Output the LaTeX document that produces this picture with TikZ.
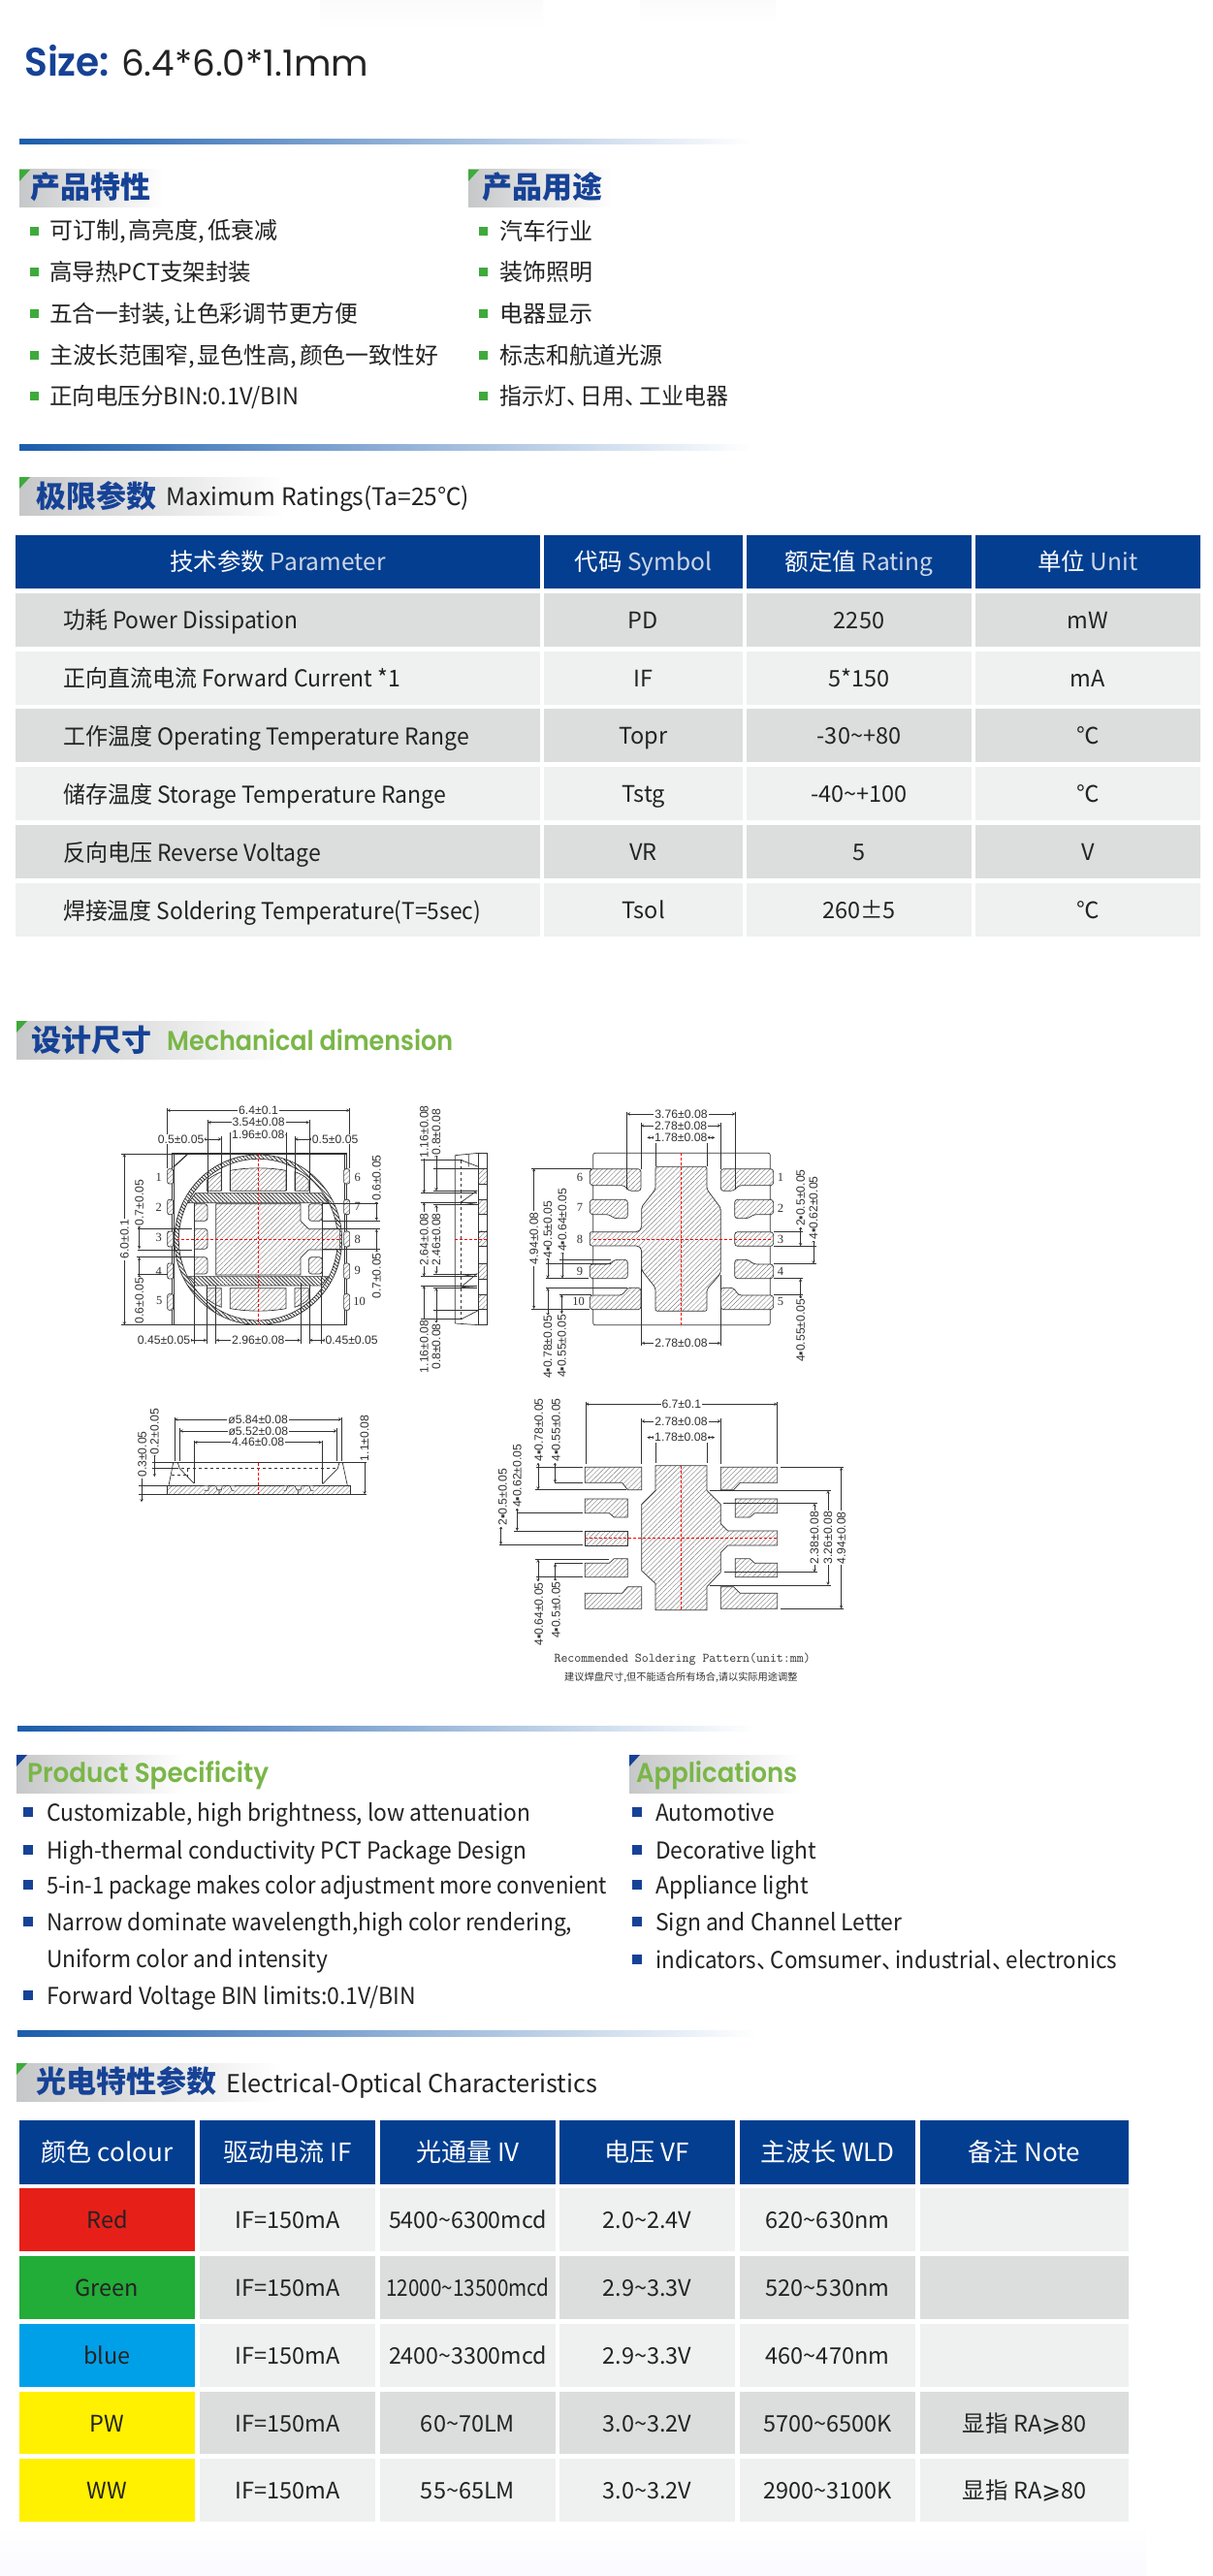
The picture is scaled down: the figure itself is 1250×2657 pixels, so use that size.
\documentclass[tikz,border=0pt]{standalone}
\usepackage{fontspec}
\setmainfont{Noto Sans CJK SC}
\newfontfamily\titlefont[BoldFont={Poppins SemiBold}]{Poppins}
\newfontfamily\drawfont{Liberation Sans}
\newfontfamily\numfont{Liberation Serif}
\newfontfamily\glyphfont{DejaVu Sans}
\usetikzlibrary{patterns.meta}
\definecolor{deepblue}{RGB}{4,62,144}
\definecolor{tagblue}{RGB}{22,66,150}
\definecolor{barblue}{RGB}{27,93,172}
\definecolor{leafgreen}{RGB}{122,182,72}
\definecolor{cornergreen}{RGB}{62,170,60}
\definecolor{inkgray}{RGB}{35,35,35}
\definecolor{rowdark}{RGB}{220,221,221}
\definecolor{rowlight}{RGB}{239,240,240}
\definecolor{tagleft}{RGB}{198,199,200}
\definecolor{ledred}{RGB}{231,31,25}
\definecolor{ledgreen}{RGB}{34,172,56}
\definecolor{ledblue}{RGB}{0,160,233}
\definecolor{ledyellow}{RGB}{255,241,0}
\definecolor{cadink}{RGB}{50,50,50}
\definecolor{cadhatch}{RGB}{130,130,130}
\definecolor{headlatin}{RGB}{205,215,232}
\tikzstyle{bodytext} = [anchor=west, inner sep=0pt, color=inkgray, font=\fontsize{24}{28}\selectfont, text height=20pt, text depth=2pt]
\tikzstyle{tagtext} = [anchor=west, inner sep=0pt, color=tagblue, font=\fontsize{31}{36}\selectfont\bfseries]
\tikzstyle{tagenglish} = [anchor=west, inner sep=0pt, color=leafgreen, font=\fontsize{28}{32}\titlefont\bfseries]
\tikzstyle{celltext} = [inner sep=0pt, color=inkgray, align=center, font=\fontsize{23.5}{28}\selectfont, text height=20pt, text depth=2pt]
\tikzstyle{headtext} = [inner sep=0pt, color=white, align=center, font=\fontsize{24.5}{28}\selectfont, text height=20pt, text depth=2pt]
\tikzstyle{cadline} = [color=cadink, line width=.7pt]
\tikzstyle{cadbold} = [color=cadink, line width=1.2pt]
\tikzstyle{dimline} = [color=cadink, line width=.5pt, <->, >=stealth]
\tikzstyle{extline} = [color=cadink, line width=.5pt]
\tikzstyle{reddash} = [color=red, line width=.7pt, dash pattern=on 3pt off 2pt]
\tikzstyle{hatched} = [cadline, preaction={fill=white}, pattern={Lines[angle=45,distance=3.6pt,line width=.45pt]}, pattern color=cadhatch]
\tikzstyle{densehatch} = [cadline, preaction={fill=white}, pattern={Lines[angle=-45,distance=2.8pt,line width=.8pt]}, pattern color=cadink]
\tikzstyle{dimtext} = [inner sep=1pt, color=cadink, fill=white, font=\fontsize{12.2}{13}\drawfont]
\tikzstyle{pinnum} = [inner sep=0pt, color=cadink, font=\fontsize{12.5}{13}\numfont]
\newcommand{\fitw}[2]{\resizebox{#1pt}{\height}{#2}}
\newcommand{\gradbar}[4]{\shade[left color=barblue, right color=white] (#1,#2) rectangle (#3,#4);}
\newcommand{\sectag}[5]{\shade[left color=tagleft, right color=white] (#1,#2) rectangle (#3,#4);
  \fill[fill=#5] (#1,#2) -- ++(11,0) -- ++(-11,12) -- cycle;}
\newcommand{\dotgreen}[2]{\fill[fill=cornergreen] (#1,#2-4.5) rectangle (#1+9,#2+4.5);}
\newcommand{\dotblue}[2]{\fill[fill=tagblue] (#1,#2-5) rectangle (#1+9.5,#2+5);}
\newcommand{\tablecell}[7]{\fill[fill=#6] (#2,#3) rectangle (#4,#5) node[pos=.5, celltext] (#1) {#7};}
\newcommand{\headpair}[7]{\fill[fill=deepblue] (#2,#3) rectangle (#4,#5) node[pos=.5, headtext] (#1) {#6 {\color{headlatin}#7}};}
\newcommand{\headwhite}[1]{\color{white}\fontsize{26}{28}\selectfont #1}
\newcommand{\dimx}[5]{\draw[dimline] (#3,#2) -- (#4,#2);
  \node[dimtext] (#1) at ({(#3+#4)/2},#2) {#5};}
\newcommand{\dimy}[5]{\draw[dimline] (#2,#3) -- (#2,#4);
  \node[dimtext, rotate=90] (#1) at (#2,{(#3+#4)/2}) {#5};}
\newcommand{\dimlabel}[4]{\node[dimtext, #4] (#1) at (#2) {#3};}
\newcommand{\cjkdun}{、\kern-8.5pt}

\begin{document}
\begin{tikzpicture}[x=1pt, y=-1pt]
  \useasboundingbox (0,0) rectangle (1250,2657);
  \fill[fill=white] (0,0) rectangle (1250,2657);
  \shade[top color=black!1.5, bottom color=white] (330,0) rectangle (560,30);
  \shade[top color=black!1.5, bottom color=white] (660,0) rectangle (800,25);
  \shade[top color=white, bottom color=blue!2] (0,2605) rectangle (1182,2657);

  % size line
  \node (sizeword) at (25,79) [anchor=base west, inner sep=0pt, color=tagblue, font=\fontsize{41}{44}\titlefont\bfseries] {\fitw{88}{Size:}};
  \node (sizevalue) at (125,79) [anchor=base west, inner sep=0pt, color=inkgray, font=\fontsize{37}{40}\titlefont] {\fitw{255}{6.4*6.0*1.1mm}};
  \gradbar{20}{144}{775}{149}

  % product features
  \sectag{20}{175}{168}{213}{cornergreen}
  \sectag{483}{175}{632}{213}{cornergreen}
  \node (featurehead) at (31,193) [tagtext] {产品特性};
  \node (usehead) at (497,193) [tagtext] {产品用途};
  \dotgreen{31}{238} \node (featurea) at (51,238) [bodytext] {\fitw{235}{可订制,\hspace{3pt}高亮度,\hspace{3pt}低衰减}};
  \dotgreen{31}{280} \node (featureb) at (51,280) [bodytext] {\fitw{208}{高导热PCT支架封装}};
  \dotgreen{31}{323} \node (featurec) at (51,323) [bodytext] {\fitw{318}{五合一封装,\hspace{3pt}让色彩调节更方便}};
  \dotgreen{31}{366} \node (featured) at (51,366) [bodytext] {\fitw{401}{主波长范围窄,\hspace{3pt}显色性高,\hspace{3pt}颜色一致性好}};
  \dotgreen{31}{408} \node (featuree) at (51,408) [bodytext] {\fitw{257}{正向电压分BIN:0.1V/BIN}};
  \dotgreen{494}{238} \node (usea) at (515,238) [bodytext] {汽车行业};
  \dotgreen{494}{280} \node (useb) at (515,280) [bodytext] {装饰照明};
  \dotgreen{494}{323} \node (usec) at (515,323) [bodytext] {电器显示};
  \dotgreen{494}{366} \node (used) at (515,366) [bodytext] {标志和航道光源};
  \dotgreen{494}{408} \node (usee) at (515,408) [bodytext] {\fitw{236}{指示灯\cjkdun 日用\cjkdun 工业电器}};
  \gradbar{20}{458}{775}{464}

  % maximum ratings
  \sectag{20}{492}{295}{531}{cornergreen}
  \node (ratinghead) at (37.5,512) [tagtext] {极限参数};
  \node (ratingsub) at (171,512) [bodytext, font=\fontsize{25}{28}\selectfont] {\fitw{313}{Maximum Ratings(Ta=25℃)}};
  \headpair{ratepara}{16}{552}{557}{607}{技术参数}{Parameter}
  \headpair{ratesym}{561}{552}{766}{607}{代码}{Symbol}
  \headpair{rateval}{770}{552}{1002}{607}{额定值}{Rating}
  \headpair{rateunit}{1006}{552}{1238}{607}{单位}{Unit}
  % rows
  \tablecell{ra}{16}{612}{557}{667}{rowdark}{}
  \node (raname) at (65,639) [bodytext] {\fitw{242}{功耗 Power Dissipation}};
  \tablecell{rasym}{561}{612}{766}{667}{rowdark}{PD}
  \tablecell{raval}{770}{612}{1002}{667}{rowdark}{2250}
  \tablecell{raunit}{1006}{612}{1238}{667}{rowdark}{mW}
  \tablecell{rb}{16}{672}{557}{727}{rowlight}{}
  \node (rbname) at (65,699) [bodytext] {\fitw{348}{正向直流电流 Forward Current *1}};
  \tablecell{rbsym}{561}{672}{766}{727}{rowlight}{IF}
  \tablecell{rbval}{770}{672}{1002}{727}{rowlight}{5*150}
  \tablecell{rbunit}{1006}{672}{1238}{727}{rowlight}{mA}
  \tablecell{rc}{16}{731}{557}{786}{rowdark}{}
  \node (rcname) at (65,759) [bodytext] {\fitw{419}{工作温度 Operating Temperature Range}};
  \tablecell{rcsym}{561}{731}{766}{786}{rowdark}{Topr}
  \tablecell{rcval}{770}{731}{1002}{786}{rowdark}{-30\textasciitilde+80}
  \tablecell{rcunit}{1006}{731}{1238}{786}{rowdark}{℃}
  \tablecell{rd}{16}{791}{557}{846}{rowlight}{}
  \node (rdname) at (65,819) [bodytext] {\fitw{395}{储存温度 Storage Temperature Range}};
  \tablecell{rdsym}{561}{791}{766}{846}{rowlight}{Tstg}
  \tablecell{rdval}{770}{791}{1002}{846}{rowlight}{-40\textasciitilde+100}
  \tablecell{rdunit}{1006}{791}{1238}{846}{rowlight}{℃}
  \tablecell{re}{16}{851}{557}{906}{rowdark}{}
  \node (rename) at (65,879) [bodytext] {\fitw{266}{反向电压 Reverse Voltage}};
  \tablecell{resym}{561}{851}{766}{906}{rowdark}{VR}
  \tablecell{reval}{770}{851}{1002}{906}{rowdark}{5}
  \tablecell{reunit}{1006}{851}{1238}{906}{rowdark}{V}
  \tablecell{rf}{16}{911}{557}{966}{rowlight}{}
  \node (rfname) at (65,939) [bodytext] {\fitw{431}{焊接温度 Soldering Temperature(T=5sec)}};
  \tablecell{rfsym}{561}{911}{766}{966}{rowlight}{Tsol}
  \tablecell{rfval}{770}{911}{1002}{966}{rowlight}{260±5}
  \tablecell{rfunit}{1006}{911}{1238}{966}{rowlight}{℃}

  % mechanical dimension
  \sectag{17}{1053}{295}{1092}{cornergreen}
  \node (mechhead) at (32,1073) [tagtext] {设计尺寸};
  \node (mechsub) at (172,1073) [tagenglish] {\fitw{295}{Mechanical dimension}};

  % top view
  \begin{scope}[shift={(100,1120)}, x=0.3333pt, y=-0.3333pt]
    \draw[cadbold] (232,210) rectangle (772,740);
    \draw[cadline] (238,210) -- (238,740) (766,210) -- (766,740);
    \draw[cadbold] (236,252) -- (282,210);
    \draw[densehatch, even odd rule] (499,476) ellipse [x radius=259, y radius=263] (499,476) ellipse [x radius=246, y radius=250];
    \draw[hatched] (412,262) .. controls (470,252) and (530,252) .. (585,262) -- (585,325) -- (412,325) -- cycle;
    \draw[hatched] (340,292) .. controls (355,280) and (370,272) .. (385,266) -- (385,325) -- (340,325) -- cycle;
    \draw[hatched] (612,266) .. controls (630,272) and (645,280) .. (655,292) -- (655,325) -- (612,325) -- cycle;
    \draw[hatched] (412,689) .. controls (470,699) and (530,699) .. (585,689) -- (585,626) -- (412,626) -- cycle;
    \draw[hatched] (340,659) .. controls (355,671) and (370,679) .. (385,685) -- (385,626) -- (340,626) -- cycle;
    \draw[hatched] (612,685) .. controls (630,679) and (645,671) .. (655,659) -- (655,626) -- (612,626) -- cycle;
    \draw[hatched] (368,365) -- (630,365) -- (630,418) -- (655,443) -- (752,443) -- (752,507) -- (655,507) -- (630,532) -- (630,585) -- (368,585) -- cycle;
    \draw[hatched, rounded corners=3pt] (302,365) -- (342,365) -- (342,418) -- (302,418);
    \draw[hatched, rounded corners=3pt] (302,442) -- (342,442) -- (342,505) -- (302,505);
    \draw[hatched, rounded corners=3pt] (302,530) -- (342,530) -- (342,582) -- (302,582);
    \draw[hatched, rounded corners=3pt] (697,365) -- (655,365) -- (655,418) -- (697,418) -- cycle;
    \draw[hatched, rounded corners=3pt] (697,530) -- (655,530) -- (655,582) -- (697,582) -- cycle;
    \draw[densehatch] (305,332) -- (695,332) -- (718,362) -- (283,362) -- cycle;
    \draw[densehatch] (283,590) -- (715,590) -- (695,618) -- (305,618) -- cycle;
    \draw[cadline] (302,362) -- (302,590) (697,362) -- (697,590);
    \draw[hatched, rounded corners=2pt] (218,257) rectangle (236,303);
    \draw[hatched, rounded corners=2pt] (218,352) rectangle (236,398);
    \draw[hatched, rounded corners=2pt] (218,450) rectangle (236,498);
    \draw[hatched, rounded corners=2pt] (218,549) rectangle (236,597);
    \draw[hatched, rounded corners=2pt] (218,644) rectangle (236,694);
    \draw[hatched, rounded corners=2pt] (764,257) rectangle (782,303);
    \draw[hatched, rounded corners=2pt] (764,352) rectangle (782,398);
    \draw[hatched, rounded corners=2pt] (764,450) rectangle (782,498);
    \draw[hatched, rounded corners=2pt] (764,549) rectangle (782,597);
    \draw[hatched, rounded corners=2pt] (764,644) rectangle (782,694);
    \draw[reddash] (499,210) -- (499,740) (245,475) -- (755,475);
    \draw[extline] (217,68) -- (217,255) (782,68) -- (782,255) (343,105) -- (343,330) (657,105) -- (657,330) (413,145) -- (413,325) (585,145) -- (585,325) (385,155) -- (385,325) (612,155) -- (612,325);
    \dimx{topwidth}{76}{217}{782}{6.4±0.1}
    \dimx{toplens}{113}{343}{657}{3.54±0.08}
    \dimx{toppad}{152}{413}{585}{1.96±0.08}
    \draw[dimline] (328,165) -- (385,165); \draw[dimline] (612,165) -- (668,165);
    \dimlabel{topgapl}{260,165}{0.5±0.05}{}
    \dimlabel{topgapr}{737,165}{0.5±0.05}{}
    \draw[extline] (75,210) -- (232,210) (75,740) -- (232,740) (125,443) -- (295,443) (125,507) -- (295,507) (122,530) -- (300,530) (125,583) -- (220,583);
    \dimy{topheight}{85}{210}{740}{6.0±0.1}
    \draw[dimline] (131,430) -- (131,505); \draw[dimline] (131,530) -- (131,597);
    \dimlabel{topsevenl}{131,362}{0.7±0.05}{rotate=90}
    \dimlabel{topsixl}{131,665}{0.6±0.05}{rotate=90}
    \draw[extline] (700,365) -- (870,365) (700,417) -- (875,417) (700,443) -- (875,443) (700,505) -- (875,505);
    \draw[dimline] (865,355) -- (865,417); \draw[dimline] (865,443) -- (865,520);
    \dimlabel{topsixr}{865,285}{0.6±0.05}{rotate=90}
    \dimlabel{topsevenr}{865,588}{0.7±0.05}{rotate=90}
    \draw[extline] (300,590) -- (300,797) (340,618) -- (340,797) (368,618) -- (368,797) (630,610) -- (630,797) (657,618) -- (657,797) (695,590) -- (695,797);
    \draw[dimline] (285,787) -- (340,787); \draw[dimline] (657,787) -- (710,787);
    \dimx{topinner}{787}{368}{630}{2.96±0.08}
    \dimlabel{topedgel}{207,787}{0.45±0.05}{}
    \dimlabel{topedger}{788,787}{0.45±0.05}{}
    \node (pina) at (191,282) [pinnum] {1};
    \node (pinb) at (191,376) [pinnum] {2};
    \node (pinc) at (191,470) [pinnum] {3};
    \node (pind) at (191,575) [pinnum] {4};
    \node (pine) at (193,665) [pinnum] {5};
    \node (pinf) at (806,282) [pinnum] {6};
    \node (ping) at (806,374) [pinnum] {7};
    \node (pinh) at (806,474) [pinnum] {8};
    \node (pini) at (806,571) [pinnum] {9};
    \node (pinj) at (812,667) [pinnum] {10};
    % side view
    \draw[cadline] (1108,215) -- (1180,208) (1108,735) -- (1180,740) (1108,215) -- (1108,735);
    \draw[cadline] (1180,208) rectangle (1207,740);
    \draw[cadline, dashed] (1127,230) -- (1127,720);
    \draw[hatched] (1180,255) rectangle (1207,303);
    \draw[hatched] (1180,352) rectangle (1207,398);
    \draw[hatched] (1180,450) rectangle (1207,497);
    \draw[hatched] (1180,550) rectangle (1207,597);
    \draw[hatched] (1180,646) rectangle (1207,692);
    \draw[cadline] (1127,230) -- (1180,250) (1127,325) -- (1175,325) -- (1127,360) -- (1180,368) (1127,590) -- (1175,582) -- (1127,622) -- (1175,625) (1127,722) -- (1180,695) (1150,212) -- (1150,250);
    \draw[reddash] (1108,475) -- (1207,475);
    \draw[extline] (1003,230) -- (1130,230) (1003,332) -- (1175,332) (1040,255) -- (1180,255) (1040,325) -- (1175,325) (1003,360) -- (1175,360) (1040,368) -- (1180,368) (1003,590) -- (1175,590) (1040,582) -- (1175,582) (1003,618) -- (1175,618) (1040,625) -- (1175,625) (1040,695) -- (1180,695) (1003,722) -- (1130,722);
    \draw[dimline] (1012,215) -- (1012,332); \draw[dimline] (1050,210) -- (1050,325);
    \draw[dimline] (1012,360) -- (1012,590); \draw[dimline] (1050,368) -- (1050,582);
    \draw[dimline] (1012,618) -- (1012,735); \draw[dimline] (1050,625) -- (1050,735);
    \dimlabel{sidea}{1012,142}{1.16±0.08}{rotate=90}
    \dimlabel{sideb}{1050,142}{0.8±0.08}{rotate=90}
    \dimlabel{sidec}{1012,475}{2.64±0.08}{rotate=90}
    \dimlabel{sided}{1050,475}{2.46±0.08}{rotate=90}
    \dimlabel{sidee}{1012,807}{1.16±0.08}{rotate=90}
    \dimlabel{sidef}{1050,807}{0.8±0.08}{rotate=90}
  \end{scope}

  % bottom view
  \begin{scope}[shift={(530,1120)}, x=0.3333pt, y=-0.3333pt]
    \draw[cadline, rounded corners=2pt] (245,208) rectangle (793,740);
    \draw[extline] (350,80) -- (350,320) (685,80) -- (685,320) (393,115) -- (393,257) (640,115) -- (640,257) (438,150) -- (438,250) (597,150) -- (597,250) (395,505) -- (395,803) (640,585) -- (640,803);
    \draw[hatched, rounded corners=2pt] (235,452) -- (385,452) -- (395,440) -- (395,375) -- (438,320) -- (438,250) -- (597,250) -- (597,320) -- (640,378) -- (640,580) -- (597,630) -- (597,697) -- (438,697) -- (438,625) -- (395,570) -- (395,505) -- (385,495) -- (235,495) -- cycle;
    \draw[hatched, rounded corners=3pt] (235,257) -- (393,257) -- (393,325) -- (355,325) -- (342,308) -- (235,308) -- cycle;
    \draw[hatched, rounded corners=3pt] (235,352) -- (352,352) -- (352,410) -- (310,410) -- (295,398) -- (235,398) -- cycle;
    \draw[hatched, rounded corners=3pt] (235,552) -- (295,552) -- (312,538) -- (352,538) -- (352,596) -- (235,596) -- cycle;
    \draw[hatched, rounded corners=3pt] (235,648) -- (335,648) -- (352,625) -- (393,625) -- (393,692) -- (235,692) -- cycle;
    \draw[hatched, rounded corners=3pt] (803,257) -- (640,257) -- (640,325) -- (680,325) -- (695,308) -- (803,308) -- cycle;
    \draw[hatched, rounded corners=3pt] (803,352) -- (683,352) -- (683,410) -- (725,410) -- (742,398) -- (803,398) -- cycle;
    \draw[hatched, rounded corners=3pt] (803,452) -- (683,452) -- (683,496) -- (803,496) -- cycle;
    \draw[hatched, rounded corners=3pt] (803,552) -- (742,552) -- (725,538) -- (683,538) -- (683,596) -- (803,596) -- cycle;
    \draw[hatched, rounded corners=3pt] (803,648) -- (695,648) -- (680,625) -- (640,625) -- (640,692) -- (803,692) -- cycle;
    \draw[reddash] (517,208) -- (517,740) (245,474) -- (800,474);
    \draw[extline] (350,80) -- (350,320) (685,80) -- (685,320);
    \dimx{bwide}{87}{350}{685}{3.76±0.08}
    \dimx{bmid}{123}{393}{640}{2.78±0.08}
    \draw[dimline] (412,160) -- (438,160); \draw[dimline] (597,160) -- (622,160);
    \dimlabel{bpad}{517,160}{1.78±0.08}{}
    \dimx{bbot}{796}{395}{640}{2.78±0.08}
    \draw[extline] (55,255) -- (240,255) (55,690) -- (230,690) (100,550) -- (300,550) (100,596) -- (230,596) (140,538) -- (300,538) (100,625) -- (350,625) (100,692) -- (235,692) (140,645) -- (240,645);
    \dimy{bheight}{62}{255}{690}{4.94±0.08}
    \draw[dimline] (105,530) -- (105,596); \draw[dimline] (150,510) -- (150,596);
    \draw[dimline] (105,625) -- (105,712); \draw[dimline] (148,645) -- (148,706);
    \dimlabel{bla}{105,444}{4▪0.5±0.05}{rotate=90}
    \dimlabel{blb}{150,415}{4▪0.64±0.05}{rotate=90}
    \dimlabel{blc}{105,808}{4▪0.78±0.05}{rotate=90}
    \dimlabel{bld}{148,805}{4▪0.55±0.05}{rotate=90}
    \draw[extline] (805,452) -- (895,452) (805,496) -- (935,496) (805,551) -- (935,551) (805,596) -- (895,596) (805,645) -- (895,645);
    \draw[dimline] (887,435) -- (887,496); \draw[dimline] (927,475) -- (927,551); \draw[dimline] (887,596) -- (887,660);
    \dimlabel{bra}{887,347}{2▪0.5±0.05}{rotate=90}
    \dimlabel{brb}{927,378}{4▪0.62±0.05}{rotate=90}
    \dimlabel{brc}{887,757}{4▪0.55±0.05}{rotate=90}
    \node (bpinf) at (204,283) [pinnum] {6};
    \node (bping) at (204,375) [pinnum] {7};
    \node (bpinh) at (204,475) [pinnum] {8};
    \node (bpini) at (204,574) [pinnum] {9};
    \node (bpinj) at (200,668) [pinnum] {10};
    \node (bpina) at (825,282) [pinnum] {1};
    \node (bpinb) at (825,378) [pinnum] {2};
    \node (bpinc) at (825,475) [pinnum] {3};
    \node (bpind) at (825,575) [pinnum] {4};
    \node (bpine) at (825,667) [pinnum] {5};
  \end{scope}

  % front view
  \begin{scope}[shift={(100,1420)}, x=0.3333pt, y=-0.3333pt]
    \draw[extline] (240,125) -- (240,262) (757,125) -- (757,262) (256,160) -- (256,262) (742,160) -- (742,262) (301,197) -- (301,330) (696,197) -- (696,330);
    \draw[cadline] (170,266) -- (835,266);
    \draw[cadline] (236,266) -- (222,337) (250,266) -- (256,284) -- (300,330) (745,284) -- (698,332) (760,266) -- (775,337) (745,284) -- (750,266);
    \draw[cadline, dashed] (170,284) -- (745,284) (232,305) -- (280,305) (280,284) -- (280,320);
    \draw[hatched] (216,337) rectangle (783,364);
    \fill[fill=white] (332,338) rectangle (345,352) (365,338) rectangle (390,352) (410,338) rectangle (425,352) (580,338) rectangle (590,352) (610,338) rectangle (635,352) (655,338) rectangle (668,352);
    \draw[cadline] (345,338) -- (345,352) -- (332,352) (368,338) -- (372,350) -- (385,350) -- (388,338) (378,350) -- (378,364) (412,338) -- (418,352) -- (425,352) (590,338) -- (585,352) -- (578,352) (612,338) -- (618,350) -- (630,350) -- (634,338) (622,350) -- (622,364) (657,338) -- (662,352) -- (670,352);
    \draw[reddash] (499,266) -- (499,364);
    \draw[extline] (130,337) -- (216,337) (130,364) -- (216,364) (170,284) -- (250,284) (783,364) -- (835,364);
    \dimx{fwide}{132}{240}{757}{ø5.84±0.08}
    \dimx{fmid}{168}{256}{742}{ø5.52±0.08}
    \dimx{finner}{203}{301}{696}{4.46±0.08}
    \draw[dimline] (178,235) -- (178,310); \draw[dimline] (138,305) -- (138,388); \draw[dimline] (828,250) -- (828,364);
    \dimlabel{ftop}{178,170}{0.2±0.05}{rotate=90}
    \dimlabel{fbase}{140,240}{0.3±0.05}{rotate=90}
    \dimlabel{fheight}{828,190}{1.1±0.08}{rotate=90}
  \end{scope}

  % soldering pattern
  \begin{scope}[shift={(490,1430)}, x=0.3333pt, y=-0.3333pt]
    \draw[hatched] (558,245) -- (717,245) -- (717,322) -- (760,365) -- (760,425) -- (782,447) -- (935,447) -- (935,492) -- (782,492) -- (760,514) -- (760,575) -- (717,620) -- (717,692) -- (558,692) -- (558,610) -- (515,570) -- (515,365) -- (558,322) -- cycle;
    \draw[hatched] (340,250) -- (515,250) -- (515,320) -- (472,320) -- (455,298) -- (340,298) -- cycle;
    \draw[hatched] (340,348) -- (472,348) -- (472,405) -- (430,405) -- (415,392) -- (340,392) -- cycle;
    \draw[hatched] (340,447) rectangle (472,492);
    \draw[hatched] (340,547) -- (415,547) -- (430,533) -- (472,533) -- (472,590) -- (340,590) -- cycle;
    \draw[hatched] (340,640) -- (455,640) -- (472,620) -- (515,620) -- (515,688) -- (340,688) -- cycle;
    \draw[hatched] (760,250) -- (935,250) -- (935,298) -- (820,298) -- (800,320) -- (760,320) -- cycle;
    \draw[hatched] (805,348) -- (935,348) -- (935,392) -- (865,392) -- (850,405) -- (805,405) -- cycle;
    \draw[hatched] (805,533) -- (850,533) -- (865,547) -- (935,547) -- (935,590) -- (805,590) -- cycle;
    \draw[hatched] (760,620) -- (800,620) -- (820,640) -- (935,640) -- (935,688) -- (760,688) -- cycle;
    \draw[reddash] (637,245) -- (637,692) (340,469) -- (935,469);
    \draw[extline] (342,48) -- (342,240) (935,48) -- (935,240) (515,100) -- (515,240) (760,100) -- (760,240) (558,150) -- (558,238) (717,150) -- (717,238);
    \dimx{swide}{55}{342}{935}{6.7±0.1}
    \dimx{smid}{108}{515}{760}{2.78±0.08}
    \draw[dimline] (532,158) -- (558,158); \draw[dimline] (717,158) -- (742,158);
    \dimlabel{spad}{637,158}{1.78±0.08}{}
    \draw[extline] (190,250) -- (333,250) (187,320) -- (467,320) (245,298) -- (333,298) (130,392) -- (333,392) (120,447) -- (333,447) (75,490) -- (333,490) (187,535) -- (415,535) (245,548) -- (333,548) (190,590) -- (333,590);
    \draw[dimline] (195,235) -- (195,320); \draw[dimline] (247,235) -- (247,298); \draw[dimline] (130,375) -- (130,447); \draw[dimline] (80,432) -- (80,490); \draw[dimline] (195,535) -- (195,605); \draw[dimline] (248,548) -- (248,605);
    \dimlabel{sla}{197,135}{4▪0.78±0.05}{rotate=90}
    \dimlabel{slb}{250,135}{4▪0.55±0.05}{rotate=90}
    \dimlabel{slc}{130,277}{4▪0.62±0.05}{rotate=90}
    \dimlabel{sld}{85,343}{2▪0.5±0.05}{rotate=90}
    \dimlabel{sle}{197,705}{4▪0.64±0.05}{rotate=90}
    \dimlabel{slf}{250,692}{4▪0.5±0.05}{rotate=90}
    \draw[extline] (945,250) -- (1140,250) (945,688) -- (1140,688) (725,322) -- (1100,322) (725,615) -- (1100,615) (768,362) -- (1060,362) (770,575) -- (1060,575);
    \dimy{sra}{1133}{250}{688}{4.94±0.08}
    \dimy{srb}{1092}{322}{615}{3.26±0.08}
    \dimy{src}{1050}{362}{575}{2.38±0.08}
    \node (solderen) at (641,845) [inner sep=0pt, color=cadink, font=\fontsize{13.5}{14}\ttfamily] {Recommended Soldering Pattern(unit:mm)};
    \node (soldercn) at (637,900) [inner sep=0pt, color=cadink, font=\fontsize{10.2}{12}\selectfont] {建议焊盘尺寸,但不能适合所有场合,请以实际用途调整};
  \end{scope}

  % english features
  \gradbar{18}{1780}{780}{1785}
  \sectag{17}{1810}{190}{1849}{tagblue}
  \sectag{649}{1810}{825}{1849}{tagblue}
  \node (spechead) at (28,1831) [tagenglish] {\fitw{249}{Product Specificity}};
  \node (apphead) at (656,1831) [tagenglish] {\fitw{166}{Applications}};
  \dotblue{24}{1869} \node (speca) at (48,1869) [bodytext] {\fitw{499}{Customizable, high brightness, low attenuation}};
  \dotblue{24}{1908} \node (specb) at (48,1908) [bodytext] {\fitw{495}{High-thermal conductivity PCT Package Design}};
  \dotblue{24}{1944} \node (specc) at (48,1944) [bodytext] {\fitw{578}{5-in-1 package makes color adjustment more convenient}};
  \dotblue{24}{1982} \node (specd) at (48,1982) [bodytext] {\fitw{542}{Narrow dominate wavelength,high color rendering,}};
  \node (specdd) at (48,2020) [bodytext] {\fitw{290}{Uniform color and intensity}};
  \dotblue{24}{2058} \node (spece) at (48,2058) [bodytext] {\fitw{381}{Forward Voltage BIN limits:0.1V/BIN}};
  \dotblue{652}{1869} \node (appa) at (676,1869) [bodytext] {\fitw{123}{Automotive}};
  \dotblue{652}{1908} \node (appb) at (676,1908) [bodytext] {\fitw{166}{Decorative light}};
  \dotblue{652}{1944} \node (appc) at (676,1944) [bodytext] {\fitw{158}{Appliance light}};
  \dotblue{652}{1982} \node (appd) at (676,1982) [bodytext] {\fitw{254}{Sign and Channel Letter}};
  \dotblue{652}{2021} \node (appe) at (676,2021) [bodytext] {\fitw{476}{indicators\cjkdun Comsumer\cjkdun industrial\cjkdun electronics}};
  \gradbar{18}{2094}{780}{2100}

  % electrical optical table
  \sectag{17}{2128}{290}{2167}{cornergreen}
  \node (elechead) at (37.5,2147) [tagtext] {光电特性参数};
  \node (elecsub) at (233,2149) [bodytext, font=\fontsize{25.5}{28}\selectfont] {\fitw{383}{Electrical-Optical Characteristics}};
  \tablecell{ha}{20}{2187}{201}{2253}{deepblue}{\headwhite{颜色 colour}}
  \tablecell{hb}{206}{2187}{387}{2253}{deepblue}{\headwhite{驱动电流 IF}}
  \tablecell{hc}{392}{2187}{573}{2253}{deepblue}{\headwhite{光通量 IV}}
  \tablecell{hd}{577}{2187}{758}{2253}{deepblue}{\headwhite{电压 VF}}
  \tablecell{he}{763}{2187}{944}{2253}{deepblue}{\headwhite{主波长 WLD}}
  \tablecell{hf}{949}{2187}{1164}{2253}{deepblue}{\headwhite{备注 Note}}

  \tablecell{aa}{20}{2257}{201}{2322}{ledred}{Red}
  \tablecell{ab}{206}{2257}{387}{2322}{rowlight}{IF=150mA}
  \tablecell{ac}{392}{2257}{573}{2322}{rowlight}{\fitw{163}{5400\textasciitilde6300mcd}}
  \tablecell{ad}{577}{2257}{758}{2322}{rowlight}{2.0\textasciitilde2.4V}
  \tablecell{ae}{763}{2257}{944}{2322}{rowlight}{620\textasciitilde630nm}
  \tablecell{af}{949}{2257}{1164}{2322}{rowlight}{}

  \tablecell{ba}{20}{2327}{201}{2392}{ledgreen}{Green}
  \tablecell{bb}{206}{2327}{387}{2392}{rowdark}{IF=150mA}
  \tablecell{bc}{392}{2327}{573}{2392}{rowdark}{\fitw{168}{12000\textasciitilde13500mcd}}
  \tablecell{bd}{577}{2327}{758}{2392}{rowdark}{2.9\textasciitilde3.3V}
  \tablecell{be}{763}{2327}{944}{2392}{rowdark}{520\textasciitilde530nm}
  \tablecell{bf}{949}{2327}{1164}{2392}{rowdark}{}

  \tablecell{ca}{20}{2397}{201}{2462}{ledblue}{blue}
  \tablecell{cb}{206}{2397}{387}{2462}{rowlight}{IF=150mA}
  \tablecell{cc}{392}{2397}{573}{2462}{rowlight}{\fitw{163}{2400\textasciitilde3300mcd}}
  \tablecell{cd}{577}{2397}{758}{2462}{rowlight}{2.9\textasciitilde3.3V}
  \tablecell{ce}{763}{2397}{944}{2462}{rowlight}{460\textasciitilde470nm}
  \tablecell{cf}{949}{2397}{1164}{2462}{rowlight}{}

  \tablecell{da}{20}{2467}{201}{2531}{ledyellow}{PW}
  \tablecell{db}{206}{2467}{387}{2531}{rowdark}{IF=150mA}
  \tablecell{dc}{392}{2467}{573}{2531}{rowdark}{60\textasciitilde70LM}
  \tablecell{dd}{577}{2467}{758}{2531}{rowdark}{3.0\textasciitilde3.2V}
  \tablecell{de}{763}{2467}{944}{2531}{rowdark}{5700\textasciitilde6500K}
  \tablecell{df}{949}{2467}{1164}{2531}{rowdark}{显指 RA{\glyphfont ⩾}80}

  \tablecell{ea}{20}{2536}{201}{2601}{ledyellow}{WW}
  \tablecell{eb}{206}{2536}{387}{2601}{rowlight}{IF=150mA}
  \tablecell{ec}{392}{2536}{573}{2601}{rowlight}{55\textasciitilde65LM}
  \tablecell{ed}{577}{2536}{758}{2601}{rowlight}{3.0\textasciitilde3.2V}
  \tablecell{ee}{763}{2536}{944}{2601}{rowlight}{2900\textasciitilde3100K}
  \tablecell{ef}{949}{2536}{1164}{2601}{rowlight}{显指 RA{\glyphfont ⩾}80}
\end{tikzpicture}
\end{document}
